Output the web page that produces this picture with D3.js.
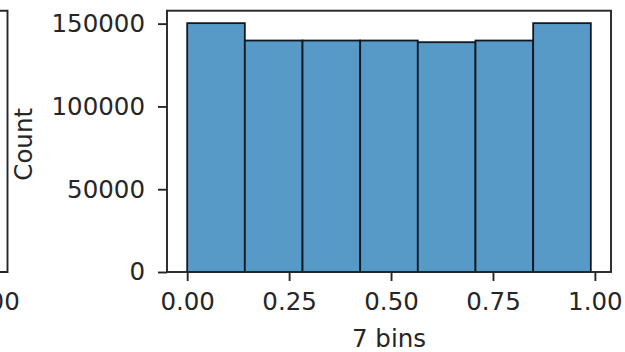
<!DOCTYPE html>
<html>
<head>
<meta charset="utf-8">
<script src="https://cdn.jsdelivr.net/npm/d3@7"></script>
<style>
  html, body { margin: 0; padding: 0; background: #fff; }
  svg { display: block; }
  text { font-family: "DejaVu Sans", sans-serif; fill: #262626; }
</style>
</head>
<body>
<svg id="chart" width="625" height="352"></svg>
<script>
// Histogram of values in [0, 1) split into 7 bins
const binEdges = [0, 0.1414, 0.2829, 0.4243, 0.5657, 0.7071, 0.8486, 0.99];
const counts = [150300, 139800, 139800, 139800, 138800, 139800, 150300];
const xTicks = [0, 0.25, 0.5, 0.75, 1.0];
const yTicks = [0, 50000, 100000, 150000];
const xLabel = "7 bins";
const yLabel = "Count";

const svg = d3.select("#chart");
const plot = { left: 167, right: 611, top: 10.7, bottom: 272 };
const ink = "#262626";
const fontSize = 24.5;

// matplotlib-like auto limits: 5% padding on x, 5% headroom on y
const x0 = binEdges[0], x1 = binEdges[binEdges.length - 1];
const pad = (x1 - x0) * 0.05;
const x = d3.scaleLinear().domain([x0 - pad, x1 + pad]).range([plot.left, plot.right]);
const y = d3.scaleLinear().domain([0, d3.max(counts) * 1.05]).range([plot.bottom, plot.top]);

// neighbouring panel (only its right edge is in view)
const prev = svg.append("g");
prev.append("path")
  .attr("d", `M0,${plot.top}H7.5V${plot.bottom}H0`)
  .attr("fill", "none").attr("stroke", ink).attr("stroke-width", 1.9);
prev.append("text")
  .attr("x", -7.5).attr("y", 293).attr("dy", "0.71em")
  .attr("text-anchor", "middle").attr("font-size", fontSize)
  .text("1.00");

// bars
const bins = counts.map((c, i) => ({ x0: binEdges[i], x1: binEdges[i + 1], c }));
svg.append("g").selectAll("rect").data(bins).join("rect")
  .attr("x", d => x(d.x0))
  .attr("width", d => x(d.x1) - x(d.x0))
  .attr("y", d => y(d.c))
  .attr("height", d => y(0) - y(d.c))
  .attr("fill", "#5799c7")
  .attr("stroke", "#111820")
  .attr("stroke-width", 1.8);

// axes
const xAxis = svg.append("g")
  .attr("transform", `translate(0,${plot.bottom})`)
  .call(d3.axisBottom(x).tickValues(xTicks).tickFormat(d3.format(".2f")).tickSize(9).tickPadding(12));
const yAxis = svg.append("g")
  .attr("transform", `translate(${plot.left},0)`)
  .call(d3.axisLeft(y).tickValues(yTicks).tickFormat(d3.format("d")).tickSize(9).tickPadding(13));

[xAxis, yAxis].forEach(g => {
  g.select(".domain").remove();
  g.selectAll(".tick line").attr("stroke", ink).attr("stroke-width", 1.9);
  g.selectAll(".tick text").attr("font-size", fontSize).attr("font-family", "DejaVu Sans").style("fill", ink);
});

// frame
svg.append("rect")
  .attr("x", plot.left).attr("y", plot.top)
  .attr("width", plot.right - plot.left).attr("height", plot.bottom - plot.top)
  .attr("fill", "none").attr("stroke", ink).attr("stroke-width", 1.9);

// axis titles
svg.append("text")
  .attr("x", (plot.left + plot.right) / 2).attr("y", 347)
  .attr("text-anchor", "middle").attr("font-size", fontSize)
  .text(xLabel);
svg.append("text")
  .attr("transform", `translate(32,${(plot.top + plot.bottom) / 2 + 3}) rotate(-90)`)
  .attr("text-anchor", "middle").attr("font-size", fontSize)
  .text(yLabel);
</script>
</body>
</html>
